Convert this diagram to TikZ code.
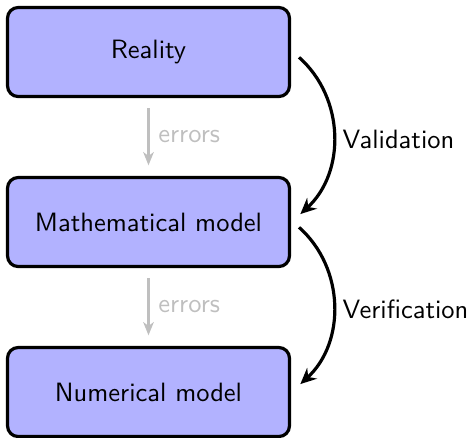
\documentclass[tikz,border=0pt]{standalone}
\usetikzlibrary{arrows.meta}
\begin{document}
\begin{tikzpicture}[x=0.3774pt,y=-0.3774pt,
  font=\sffamily,
  stage/.style={draw=black, very thick, fill=blue!30, rounded corners=4pt,
    minimum width=106.4pt, minimum height=33.6pt},
  errarrow/.style={draw=black!25, thick, -{Stealth[length=5pt,width=4pt,inset=1.5pt]},
    shorten <=3.8pt, shorten >=4pt},
  errlabel/.style={text=black!25, right},
  checkarrow/.style={very thick, -{Stealth[length=6pt,width=5.5pt,inset=2pt]}, bend left=48},
  checklabel/.style={right, xshift=-0.6pt, yshift=-1.4pt}]
  \useasboundingbox (0,0) rectangle (473,437);

  % the three stages
  \node[stage] (reality) at (148.5,52) {Reality};
  \node[stage] (math)    at (148.5,222) {Mathematical model};
  \node[stage] (num)     at (148.5,392) {Numerical model};

  % error propagation between stages
  \draw[errarrow] (reality) -- node[errlabel] {errors} (math);
  \draw[errarrow] (math) -- node[errlabel] {errors} (num);

  % validation and verification loops
  \draw[checkarrow] ([xshift=3pt,yshift=-2pt]reality.east)
    to node[checklabel] {Validation} ([xshift=3.5pt,yshift=3pt]math.east);
  \draw[checkarrow] ([xshift=3pt,yshift=-2pt]math.east)
    to node[checklabel] {Verification} ([xshift=3.5pt,yshift=3pt]num.east);
\end{tikzpicture}
\end{document}
